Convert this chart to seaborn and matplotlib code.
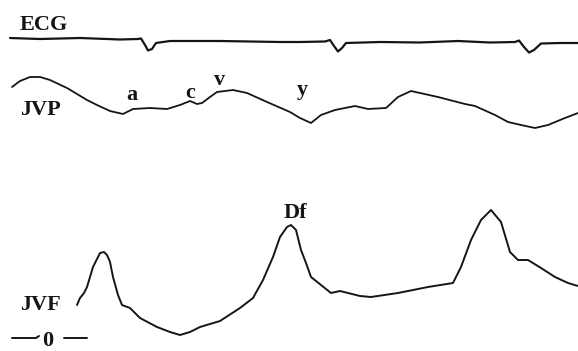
import matplotlib
matplotlib.use("Agg")
import matplotlib.pyplot as plt
import seaborn as sns
import pandas as pd

# Trace samples (x: horizontal position, y: vertical position, image units)
ecg_x = [10, 40, 80, 120, 138, 141, 145, 148, 152, 156, 170, 220, 280, 300, 325, 330, 334, 338, 342, 346,
         380, 420, 458, 490, 515, 519, 524, 529, 534, 541, 560, 578]
ecg_y = [38, 39, 38, 39.5, 39, 38.5, 45, 50.5, 49, 43, 41, 41, 42, 42, 41.5, 40, 46, 51.5, 48, 43,
         42, 42.5, 41, 42.5, 42, 40.5, 47, 52.5, 50, 43.5, 43, 43]

jvp_x = [12, 20, 30, 40, 50, 67, 87, 97, 110, 123, 133, 150, 167, 180, 190, 197, 202, 210, 217, 233,
         247, 267, 290, 300, 311, 321, 335, 355, 368, 386, 398, 411, 438, 465, 475, 495, 508, 521, 535,
         548, 565, 578]
jvp_y = [87, 81, 77, 77, 80, 88, 100, 105, 111, 114, 109, 108, 109, 105, 101, 104, 103, 97, 92, 90,
         93, 102, 112, 118, 123, 115, 110, 106, 109, 108, 97, 91, 97, 104, 106, 115, 122, 125, 128,
         125, 118, 113]

jvf_x = [77, 80, 84, 87, 93, 100, 104, 107, 110, 113, 118, 122, 130, 140, 157, 170, 180, 190, 200, 220,
         240, 253, 263, 273, 280, 287, 291, 296, 301, 306, 311, 321, 331, 340, 348, 360, 371, 398, 428,
         453, 461, 471, 481, 491, 501, 510, 518, 528, 541, 555, 568, 578]
jvf_y = [305, 298, 293, 287, 267, 253, 252, 255, 262, 277, 295, 305, 308, 318, 327, 332, 335, 332, 327, 321,
         308, 298, 280, 257, 237, 227, 225, 230, 250, 263, 277, 285, 293, 291, 293, 296, 297, 293, 287,
         283, 267, 240, 220, 210, 222, 252, 260, 260, 268, 277, 283, 286]

# zero reference marks
zero_left_x = [12, 36, 39]
zero_left_y = [338, 338, 336]
zero_right_x = [64, 87]
zero_right_y = [338, 338]

# labels: (text, x, baseline y)
label_text = ["ECG", "JVP", "JVF", "a", "c", "v", "y", "Df", "0"]
label_x = [44, 40, 40, 132, 190, 220, 302, 295, 48]
label_y = [30, 115, 310, 100, 98, 85, 95, 218, 346]

sns.set_theme(style="white")
plt.rcParams["font.family"] = ["Liberation Serif", "DejaVu Serif"]

fig = plt.figure(figsize=(5.78, 3.51), dpi=100)
ax = fig.add_axes([0, 0, 1, 1])

col = "#151515"
sns.lineplot(data=pd.DataFrame({"x": ecg_x, "y": ecg_y}), x="x", y="y", ax=ax,
             color=col, lw=1.6, sort=False, estimator=None)
sns.lineplot(data=pd.DataFrame({"x": jvp_x, "y": jvp_y}), x="x", y="y", ax=ax,
             color=col, lw=1.3, sort=False, estimator=None)
sns.lineplot(data=pd.DataFrame({"x": jvf_x, "y": jvf_y}), x="x", y="y", ax=ax,
             color=col, lw=1.4, sort=False, estimator=None)
sns.lineplot(data=pd.DataFrame({"x": zero_left_x, "y": zero_left_y}), x="x", y="y", ax=ax,
             color=col, lw=1.4, sort=False, estimator=None)
sns.lineplot(data=pd.DataFrame({"x": zero_right_x, "y": zero_right_y}), x="x", y="y", ax=ax,
             color=col, lw=1.4, sort=False, estimator=None)

for t, x, y in zip(label_text, label_x, label_y):
    ax.text(x, y, t, ha="center", va="baseline", fontsize=16, fontweight="bold", color=col)

ax.set_xlim(0, 578)
ax.set_ylim(351, 0)
ax.axis("off")

fig.savefig("out.png", dpi=100)
